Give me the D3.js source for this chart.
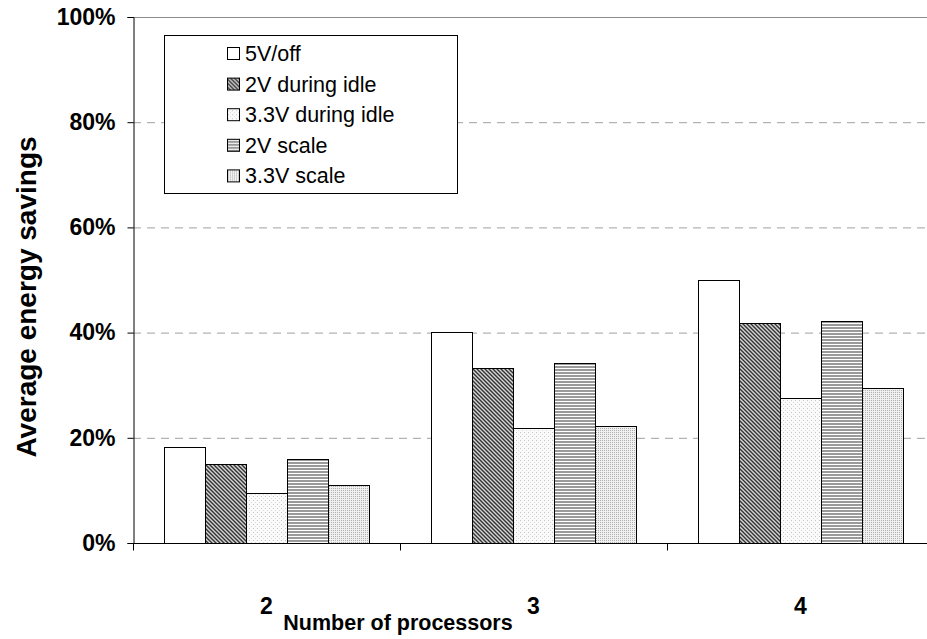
<!DOCTYPE html>
<html>
<head>
<meta charset="utf-8">
<script src="https://cdn.jsdelivr.net/npm/d3@7"></script>
<style>
  html, body { margin: 0; padding: 0; background: #fff; }
  svg { display: block; }
  text { font-family: Arial, "Liberation Sans", Helvetica, sans-serif; }
</style>
</head>
<body>
<svg id="chart" width="927" height="639"></svg>
<script>
// Number of processors on the x axis
const categories = ["2", "3", "4"];
// Power-management schemes, in legend order
const seriesNames = ["5V/off", "2V during idle", "3.3V during idle", "2V scale", "3.3V scale"];
// Average energy savings (fraction) per scheme, one value per processor count
const savings5Voff     = [0.182, 0.401, 0.500];
const savings2VIdle    = [0.151, 0.333, 0.418];
const savings33VIdle   = [0.096, 0.219, 0.275];
const savings2VScale   = [0.159, 0.343, 0.423];
const savings33VScale  = [0.110, 0.223, 0.294];
const yTicks = [0, 0.2, 0.4, 0.6, 0.8, 1.0];

const seriesValues = [savings5Voff, savings2VIdle, savings33VIdle, savings2VScale, savings33VScale];
const patternIds = ["p-white", "p-diag", "p-lightdot", "p-hstripe", "p-dot"];

const svg = d3.select("#chart");
const margin = { left: 133, top: 17, bottom: 543, right: 934 };

// Fill patterns for each scheme
const defs = svg.append("defs");
defs.append("pattern").attr("id", "p-white").attr("patternUnits", "userSpaceOnUse")
  .attr("width", 4).attr("height", 4)
  .append("rect").attr("width", 4).attr("height", 4).attr("fill", "#fff");

const diag = defs.append("pattern").attr("id", "p-diag").attr("patternUnits", "userSpaceOnUse")
  .attr("width", 4).attr("height", 4);
diag.append("rect").attr("width", 4).attr("height", 4).attr("fill", "#d4d4d4");
diag.append("path").attr("d", "M-1,-1 L5,5 M-1,3 L1,5 M3,-1 L5,1")
  .attr("stroke", "#333").attr("stroke-width", 1.4);

const ldot = defs.append("pattern").attr("id", "p-lightdot").attr("patternUnits", "userSpaceOnUse")
  .attr("width", 4).attr("height", 4);
ldot.append("rect").attr("width", 4).attr("height", 4).attr("fill", "#fafafa");
ldot.append("rect").attr("x", 0).attr("y", 0).attr("width", 1).attr("height", 1).attr("fill", "#c4c4c4");
ldot.append("rect").attr("x", 2).attr("y", 2).attr("width", 1).attr("height", 1).attr("fill", "#dadada");

const hs = defs.append("pattern").attr("id", "p-hstripe").attr("patternUnits", "userSpaceOnUse")
  .attr("width", 4).attr("height", 3);
hs.append("rect").attr("width", 4).attr("height", 3).attr("fill", "#fff");
hs.append("rect").attr("y", 0).attr("width", 4).attr("height", 2).attr("fill", "#9a9a9a");

const dot = defs.append("pattern").attr("id", "p-dot").attr("patternUnits", "userSpaceOnUse")
  .attr("width", 2).attr("height", 2);
dot.append("rect").attr("width", 2).attr("height", 2).attr("fill", "#f0f0f0");
dot.append("rect").attr("x", 0).attr("y", 0).attr("width", 1).attr("height", 1).attr("fill", "#b0b0b0");

// Scales
const x0 = d3.scaleBand().domain(categories).range([margin.left, margin.right]).padding(0);
const x1 = d3.scaleBand().domain(d3.range(seriesNames.length))
  .range([0, x0.bandwidth()]).paddingInner(0).paddingOuter(0.756);
const y = d3.scaleLinear().domain([0, 1]).range([margin.bottom, margin.top]);

// Gridlines
svg.append("g").selectAll("line").data(yTicks.filter(t => t > 0 && t < 1)).join("line")
  .attr("x1", margin.left).attr("x2", margin.right)
  .attr("y1", d => y(d) + 0.5).attr("y2", d => y(d) + 0.5)
  .attr("stroke", "#a0a0a0").attr("stroke-width", 1).attr("stroke-dasharray", "8,6");
svg.append("line").attr("x1", margin.left).attr("x2", margin.right)
  .attr("y1", y(1) + 0.5).attr("y2", y(1) + 0.5)
  .attr("stroke", "#8c8c8c").attr("stroke-width", 1);

// Bars
const groups = svg.append("g").selectAll("g").data(categories).join("g")
  .attr("transform", d => `translate(${x0(d)},0)`);
groups.selectAll("rect")
  .data((c, ci) => seriesValues.map((vals, si) => ({ si, v: vals[ci] })))
  .join("rect")
  .attr("x", d => Math.round(x1(d.si)) + 0.5)
  .attr("width", x1.bandwidth())
  .attr("y", d => Math.round(y(d.v)) + 0.5)
  .attr("height", d => y(0) - Math.round(y(d.v)))
  .attr("fill", d => `url(#${patternIds[d.si]})`)
  .attr("stroke", "#000").attr("stroke-width", 1);

// Y axis
const yAxis = d3.axisLeft(y).tickValues(yTicks).tickFormat(d3.format(".0%")).tickSize(6).tickPadding(12);
const yg = svg.append("g").attr("transform", `translate(${margin.left + 0.5},0)`).call(yAxis);
yg.select(".domain").attr("stroke", "#000");
yg.selectAll(".tick line").attr("stroke", "#000");
yg.selectAll(".tick text").attr("font-size", 23).attr("font-weight", "bold").attr("fill", "#000")
  .attr("font-family", "Arial, 'Liberation Sans', sans-serif");

// X axis: ticks on category boundaries, labels at centres
const xg = svg.append("g").attr("transform", `translate(0,${margin.bottom + 0.5})`);
xg.append("line").attr("x1", margin.left).attr("x2", margin.right).attr("stroke", "#000");
xg.selectAll("line.tk").data(categories).join("line").attr("class", "tk")
  .attr("x1", d => x0(d) + 0.5).attr("x2", d => x0(d) + 0.5).attr("y1", 0).attr("y2", 7)
  .attr("stroke", "#000");
xg.selectAll("text").data(categories).join("text")
  .attr("x", d => x0(d) + x0.bandwidth() / 2).attr("y", 70)
  .attr("text-anchor", "middle").attr("font-size", 23).attr("font-weight", "bold").text(d => d);

// Axis titles
svg.append("text").attr("x", 398).attr("y", 630).attr("text-anchor", "middle")
  .attr("font-size", 21.5).attr("font-weight", "bold").text("Number of processors");
svg.append("text").attr("transform", "translate(36,297) rotate(-90)").attr("text-anchor", "middle")
  .attr("font-size", 28).attr("font-weight", "bold").text("Average energy savings");

// Legend
const lg = svg.append("g");
lg.append("rect").attr("x", 164.5).attr("y", 35.5).attr("width", 293).attr("height", 158)
  .attr("fill", "#fff").attr("stroke", "#000");
const rows = lg.selectAll("g.row").data(seriesNames).join("g").attr("class", "row")
  .attr("transform", (d, i) => `translate(0,${61 + i * 30.6})`);
rows.append("rect").attr("x", 227.5).attr("y", -13.5).attr("width", 12).attr("height", 12)
  .attr("fill", (d, i) => `url(#${patternIds[i]})`).attr("stroke", "#000");
rows.append("text").attr("x", 245).attr("y", 0).attr("font-size", 21.5).text(d => d);
</script>
</body>
</html>
